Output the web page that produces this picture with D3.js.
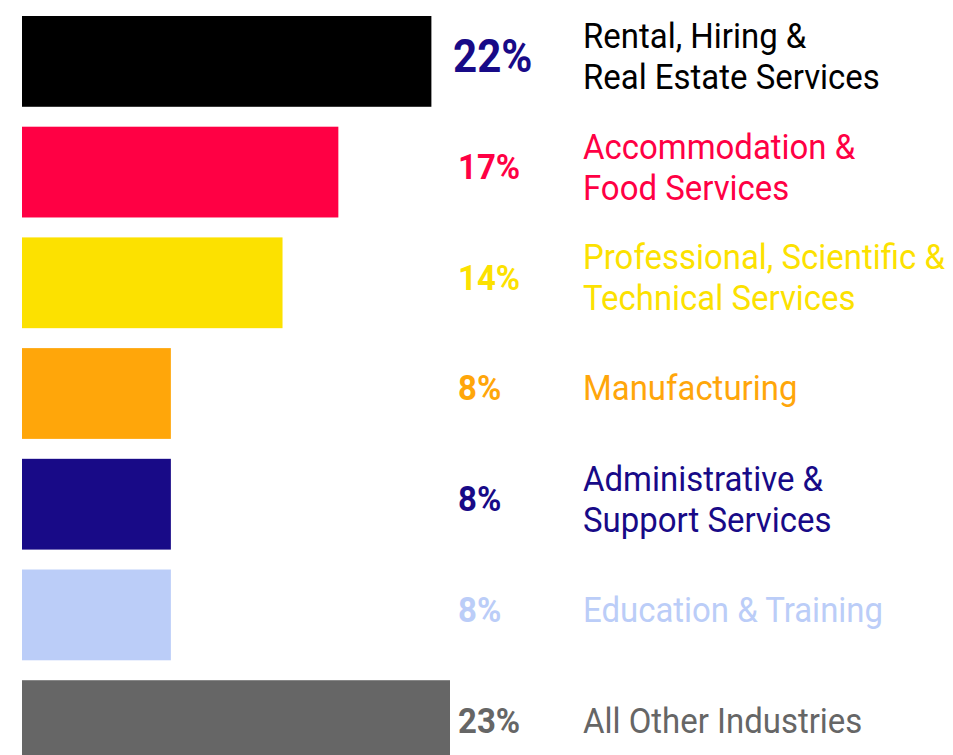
<!DOCTYPE html>
<html>
<head>
<meta charset="utf-8">
<script src="https://cdn.jsdelivr.net/npm/d3@7"></script>
<style>
  body { margin: 0; background: #fff; }
  svg { display: block; }
</style>
</head>
<body>
<div id="chart"></div>
<script>
// data
let industries = [
    ["Rental, Hiring &", "Real Estate Services"],
    ["Accommodation &", "Food Services"],
    ["Professional, Scientific &", "Technical Services"],
    ["Manufacturing"],
    ["Administrative &", "Support Services"],
    ["Education & Training"],
    ["All Other Industries"]
];
let shares = [22, 17, 14, 8, 8, 8, 23];
let barColors = ["#000000", "#FF0044", "#FCE100", "#FFA60A", "#180A87", "#BBCDF8", "#666666"];
let pctColors = ["#180A87", "#FF0044", "#FCE100", "#FFA60A", "#180A87", "#BBCDF8", "#666666"];

let width = 953, height = 755;
// Roboto squeezed a little to look like the condensed face
let squeeze = 0.915;

let svg = d3.select("#chart")
    .append("svg")
    .attr("width", width)
    .attr("height", height);

// scales
let x = d3.scaleLinear()
    .domain([0, 23])
    .range([22, 450]);

let y = d3.scaleBand()
    .domain(d3.range(shares.length))
    .range([16, 771])
    .paddingInner(0.18)
    .paddingOuter(0);

// text sits a bit above the middle of each bar
let textY = function (i) {
    return y(i) + y.bandwidth() / 2 - 6;
};

// bars
svg.selectAll("rect.bar")
    .data(shares)
    .enter()
    .append("rect")
    .attr("class", "bar")
    .attr("x", x(0))
    .attr("y", (d, i) => y(i))
    .attr("width", d => x(d) - x(0))
    .attr("height", y.bandwidth())
    .attr("fill", (d, i) => barColors[i]);

// percentage labels
svg.selectAll("text.pct")
    .data(shares)
    .enter()
    .append("text")
    .attr("class", "pct")
    .attr("transform", (d, i) => "translate(" + (i === 0 ? 453 : 458) + "," + textY(i) + ") scale(" + squeeze + ",1)")
    .attr("dy", "0.36em")
    .style("font-family", "Roboto, sans-serif")
    .style("font-weight", 700)
    .style("font-size", (d, i) => i === 0 ? "46px" : "36px")
    .style("fill", (d, i) => pctColors[i])
    .text(d => d + "%");

// category labels
let labels = svg.selectAll("text.cat")
    .data(industries)
    .enter()
    .append("text")
    .attr("class", "cat")
    .attr("transform", (d, i) => "translate(583," + textY(i) + ") scale(" + squeeze + ",1)")
    .style("font-family", "Roboto, sans-serif")
    .style("font-size", "36px")
    .style("fill", (d, i) => barColors[i]);

labels.selectAll("tspan")
    .data(d => d.map((line, j) => ({line: line, j: j, n: d.length})))
    .enter()
    .append("tspan")
    .attr("x", 0)
    .attr("y", d => (d.j - (d.n - 1) / 2) * 41)
    .attr("dy", "0.36em")
    .text(d => d.line);
</script>
</body>
</html>
